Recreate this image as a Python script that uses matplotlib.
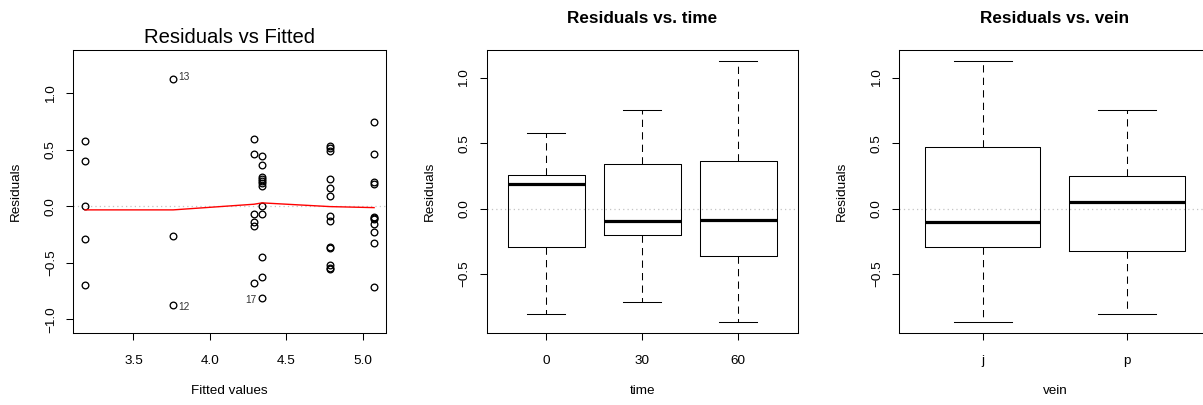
import matplotlib
matplotlib.use("Agg")
import matplotlib.pyplot as plt

plt.rcParams['font.family'] = ['Liberation Sans', 'DejaVu Sans']

# residuals vs fitted values, grouped by fitted level
fit_lv = [3.182, 3.760, 4.289, 4.342, 4.786, 5.075]
res_g1 = [0.581, 0.404, 0.0, -0.292, -0.696]
res_g2 = [1.13, -0.265, -0.87]
res_g3 = [0.596, 0.463, -0.068, -0.142, -0.174, -0.676]
res_g4 = [0.445, 0.368, 0.262, 0.244, 0.227, 0.209, 0.180, 0.005, -0.065, -0.449, -0.628, -0.814]
res_g5 = [0.534, 0.513, 0.487, 0.239, 0.162, 0.094, -0.083, -0.133, -0.357, -0.366, -0.522, -0.543, -0.558]
res_g6 = [0.749, 0.460, 0.218, 0.195, -0.091, -0.103, -0.115, -0.156, -0.227, -0.327, -0.717]
smooth_y = [-0.032, -0.032, 0.018, 0.030, -0.003, -0.012]

# labelled outliers
out_ids = ['13', '12', '17']
out_x = [3.760, 3.760, 4.342]
out_y = [1.13, -0.87, -0.814]

# box stats: residuals by time
time_labels = ['0', '30', '60']
time_whislo = [-0.81, -0.716, -0.868]
time_q1 = [-0.29, -0.204, -0.359]
time_med = [0.186, -0.094, -0.084]
time_q3 = [0.26, 0.341, 0.362]
time_whishi = [0.583, 0.754, 1.133]

# box stats: residuals by vein
vein_labels = ['j', 'p']
vein_whislo = [-0.868, -0.81]
vein_q1 = [-0.29, -0.326]
vein_med = [-0.104, 0.053]
vein_q3 = [0.471, 0.25]
vein_whishi = [1.133, 0.754]

W, H = 1203, 405
fig = plt.figure(figsize=(W / 100, H / 100), dpi=100)

def px_axes(left, right, top=50, bottom=332.7):
    return fig.add_axes([left / W, (H - bottom) / H, (right - left) / W, (bottom - top) / H])

FS = 9.7
LW = 0.75
ZERO = dict(color='#c4c4c4', ls=(0, (1, 2.5)), lw=0.9, zorder=0)

def style(ax):
    for s in ax.spines.values():
        s.set_linewidth(LW)
    ax.tick_params(axis='both', length=5.3, width=LW, labelsize=FS)
    ax.tick_params(axis='x', pad=10.5)
    ax.tick_params(axis='y', pad=6.5)
    for lab in ax.get_yticklabels():
        lab.set_rotation(90)
        lab.set_va('center')
    ax.yaxis.set_label_coords(-0.183, 0.5)
    ax.xaxis.set_label_coords(0.5, -0.205)
    ax.xaxis.label.set_va('center')
    ax.yaxis.label.set_va('center')

####################################################### panel 1
ax1 = px_axes(73.3, 385.7)
groups = [res_g1, res_g2, res_g3, res_g4, res_g5, res_g6]
for fx, rs in zip(fit_lv, groups):
    ax1.plot([fx] * len(rs), rs, 'o', mfc='none', mec='black', ms=4.8, mew=0.95)
ax1.plot(fit_lv, smooth_y, color='red', lw=1.0)
ax1.axhline(0, **ZERO)
for lab, x, y in zip(out_ids, out_x, out_y):
    if lab == '17':
        ax1.annotate(lab, (x, y), xytext=(-4, -1.5), textcoords='offset points',
                     ha='right', va='center', fontsize=7.3, color='#333333')
    else:
        off = 1.5 if y > 0 else -1.5
        ax1.annotate(lab, (x, y), xytext=(4, off), textcoords='offset points',
                     ha='left', va='center', fontsize=7.3, color='#333333')
ax1.set_xlim(3.106, 5.151)
ax1.set_ylim(-1.119, 1.383)
ax1.set_xticks([3.5, 4.0, 4.5, 5.0])
ax1.set_yticks([-1.0, -0.5, 0.0, 0.5, 1.0])
ax1.set_xlabel('Fitted values', fontsize=FS)
ax1.set_ylabel('Residuals', fontsize=FS)
ax1.set_title('Residuals vs Fitted', fontsize=14.6, pad=5)
style(ax1)

####################################################### box panels
def box_panel(ax, labels, lo, q1, med, q3, hi, title, xlab):
    stats = []
    for i in range(len(labels)):
        stats.append(dict(med=med[i], q1=q1[i], q3=q3[i], whislo=lo[i], whishi=hi[i], fliers=[]))
    pos = list(range(1, len(labels) + 1))
    ax.bxp(stats, positions=pos, widths=0.8, capwidths=0.4, showfliers=False,
           boxprops=dict(color='black', lw=LW),
           whiskerprops=dict(color='black', lw=LW, ls=(0, (7, 5))),
           capprops=dict(color='black', lw=LW),
           medianprops=dict(color='black', lw=2.3, solid_capstyle='butt'))
    ax.axhline(0, **ZERO)
    n = len(labels)
    pad = n * 0.04
    ax.set_xlim(0.5 - pad, n + 0.5 + pad)
    ax.set_ylim(-0.95, 1.215)
    ax.set_xticks(pos)
    ax.set_xticklabels(labels)
    ax.set_yticks([-0.5, 0.0, 0.5, 1.0])
    ax.set_xlabel(xlab, fontsize=FS)
    ax.set_ylabel('Residuals', fontsize=FS)
    ax.set_title(title, fontsize=12.3, fontweight='bold', pad=19.7)
    style(ax)

ax2 = px_axes(486.7, 797.7)
box_panel(ax2, time_labels, time_whislo, time_q1, time_med, time_q3, time_whishi,
          'Residuals vs. time', 'time')

ax3 = px_axes(899.3, 1210.5)
box_panel(ax3, vein_labels, vein_whislo, vein_q1, vein_med, vein_q3, vein_whishi,
          'Residuals vs. vein', 'vein')

fig.savefig('out.png', dpi=100)
